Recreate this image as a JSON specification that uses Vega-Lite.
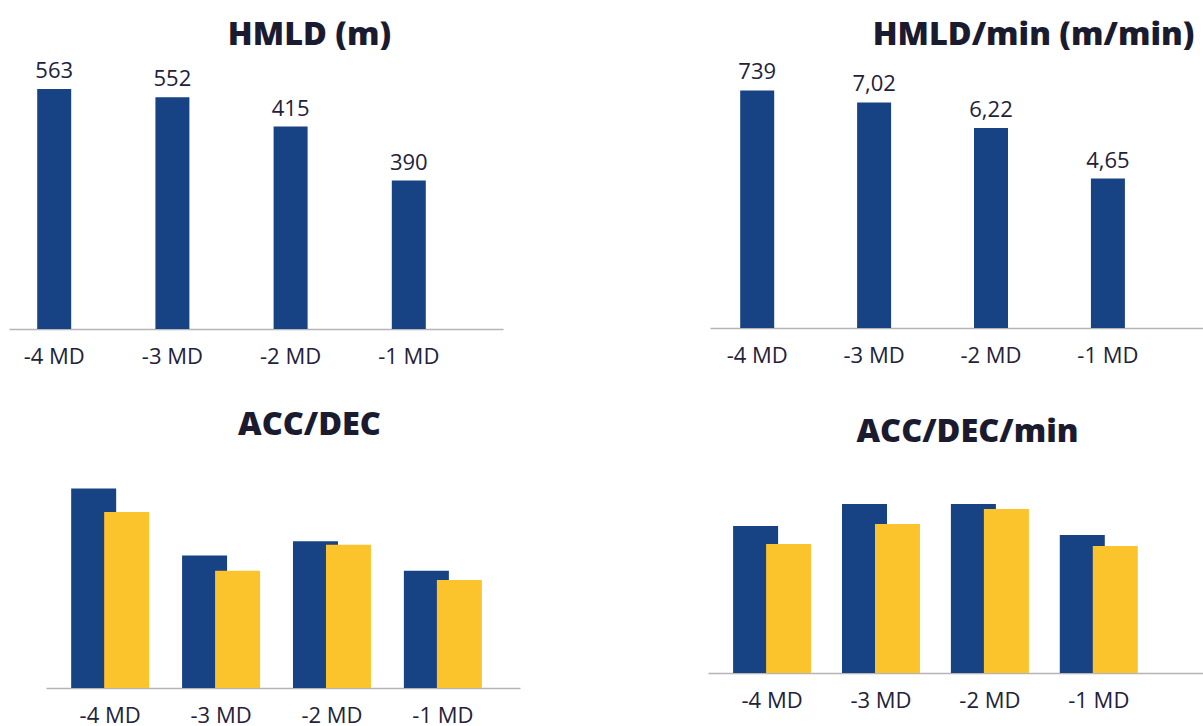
{
  "$schema": "https://vega.github.io/schema/vega-lite/v6.json",
  "background": "white",
  "padding": {"left": 9, "top": 18, "right": 0, "bottom": 0},
  "columns": 1,
  "align": "none",
  "spacing": 42,
  "config": {
    "view": {"stroke": null},
    "font": "Open Sans",
    "title": {"font": "Open Sans", "fontSize": 32.5, "fontWeight": 800, "color": "#1b1b2f", "baseline": "alphabetic", "frame": "group", "anchor": "middle"},
    "axisX": {"title": null, "domainColor": "#b5b5b5", "domainWidth": 1.5, "ticks": false, "tickSize": 0, "labelFontSize": 22, "labelFont": "Open Sans", "labelColor": "#22223a", "labelPadding": 17, "labelAngle": 0, "grid": false}
  },
  "concat": [
    {
      "spacing": 207,
      "hconcat": [
        {
          "title": {"text": "HMLD (m)", "dx": 53.5, "offset": 5},
          "width": 494,
          "height": 273,
          "data": {"values": [
            {"day": "-4 MD", "bar": 7.47, "label": "563"},
            {"day": "-3 MD", "bar": 7.21, "label": "552"},
            {"day": "-2 MD", "bar": 6.30, "label": "415"},
            {"day": "-1 MD", "bar": 4.62, "label": "390"}
          ]},
          "encoding": {
            "x": {"field": "day", "type": "nominal", "sort": ["-4 MD", "-3 MD", "-2 MD", "-1 MD"], "scale": {"paddingInner": 0.7124, "paddingOuter": 0.4459, "align": 0.2676, "round": false}},
            "y": {"field": "bar", "type": "quantitative", "scale": {"domain": [0, 8.494], "nice": false}, "axis": null}
          },
          "layer": [
            {"mark": {"type": "bar", "color": "#174283"}},
            {"mark": {"type": "text", "baseline": "alphabetic", "dy": -11, "fontSize": 22, "color": "#22223a"}, "encoding": {"text": {"field": "label"}}}
          ]
        },
        {
          "title": {"text": "HMLD/min (m/min)", "dx": 77, "offset": 5},
          "width": 493,
          "height": 272,
          "data": {"values": [
            {"day": "-4 MD", "bar": 7.39, "label": "739"},
            {"day": "-3 MD", "bar": 7.02, "label": "7,02"},
            {"day": "-2 MD", "bar": 6.22, "label": "6,22"},
            {"day": "-1 MD", "bar": 4.65, "label": "4,65"}
          ]},
          "encoding": {
            "x": {"field": "day", "type": "nominal", "sort": ["-4 MD", "-3 MD", "-2 MD", "-1 MD"], "scale": {"paddingInner": 0.7092, "paddingOuter": 0.4632, "align": 0.2789, "round": false}},
            "y": {"field": "bar", "type": "quantitative", "scale": {"domain": [0, 8.463], "nice": false}, "axis": null}
          },
          "layer": [
            {"mark": {"type": "bar", "color": "#174283"}},
            {"mark": {"type": "text", "baseline": "alphabetic", "dy": -11, "fontSize": 22, "color": "#22223a"}, "encoding": {"text": {"field": "label"}}}
          ]
        }
      ]
    },
    {
      "spacing": 188,
      "hconcat": [
        {
          "title": {"text": "ACC/DEC", "dx": 45, "offset": 12.5},
          "width": 511,
          "height": 234,
          "data": {"values": [
            {"day": "-4 MD", "series": "ACC", "value": 49.9},
            {"day": "-3 MD", "series": "ACC", "value": 33.1},
            {"day": "-2 MD", "series": "ACC", "value": 36.7},
            {"day": "-1 MD", "series": "ACC", "value": 29.3},
            {"day": "-4 MD", "series": "DEC", "value": 44.0},
            {"day": "-3 MD", "series": "DEC", "value": 29.3},
            {"day": "-2 MD", "series": "DEC", "value": 35.8},
            {"day": "-1 MD", "series": "DEC", "value": 27.0}
          ]},
          "mark": {"type": "bar", "width": 45},
          "encoding": {
            "x": {"field": "day", "type": "nominal", "sort": ["-4 MD", "-3 MD", "-2 MD", "-1 MD"], "scale": {"range": [37, 511], "paddingInner": 0.4049, "paddingOuter": 0.3395, "align": 0.414, "round": false}},
            "xOffset": {"field": "series", "type": "nominal", "scale": {"domain": ["ACC", "DEC"], "paddingInner": 0, "paddingOuter": 0}},
            "y": {"field": "value", "type": "quantitative", "stack": null, "scale": {"domain": [0, 58.5], "nice": false}, "axis": null},
            "color": {"field": "series", "type": "nominal", "scale": {"domain": ["ACC", "DEC"], "range": ["#174283", "#fcc42c"]}, "legend": null}
          }
        },
        {
          "title": {"text": "ACC/DEC/min", "dx": 12, "offset": 5.5},
          "width": 495,
          "height": 219,
          "data": {"values": [
            {"day": "-4 MD", "series": "ACC", "value": 14.7},
            {"day": "-3 MD", "series": "ACC", "value": 16.9},
            {"day": "-2 MD", "series": "ACC", "value": 16.9},
            {"day": "-1 MD", "series": "ACC", "value": 13.8},
            {"day": "-4 MD", "series": "DEC", "value": 12.9},
            {"day": "-3 MD", "series": "DEC", "value": 14.9},
            {"day": "-2 MD", "series": "DEC", "value": 16.4},
            {"day": "-1 MD", "series": "DEC", "value": 12.7}
          ]},
          "mark": {"type": "bar", "width": 45},
          "encoding": {
            "x": {"field": "day", "type": "nominal", "sort": ["-4 MD", "-3 MD", "-2 MD", "-1 MD"], "scale": {"paddingInner": 0.3939, "paddingOuter": 0.4697, "align": 0.304, "round": false}},
            "xOffset": {"field": "series", "type": "nominal", "scale": {"domain": ["ACC", "DEC"], "paddingInner": 0, "paddingOuter": 0}},
            "y": {"field": "value", "type": "quantitative", "stack": null, "scale": {"domain": [0, 21.9], "nice": false}, "axis": null},
            "color": {"field": "series", "type": "nominal", "scale": {"domain": ["ACC", "DEC"], "range": ["#174283", "#fcc42c"]}, "legend": null}
          }
        }
      ]
    }
  ]
}
